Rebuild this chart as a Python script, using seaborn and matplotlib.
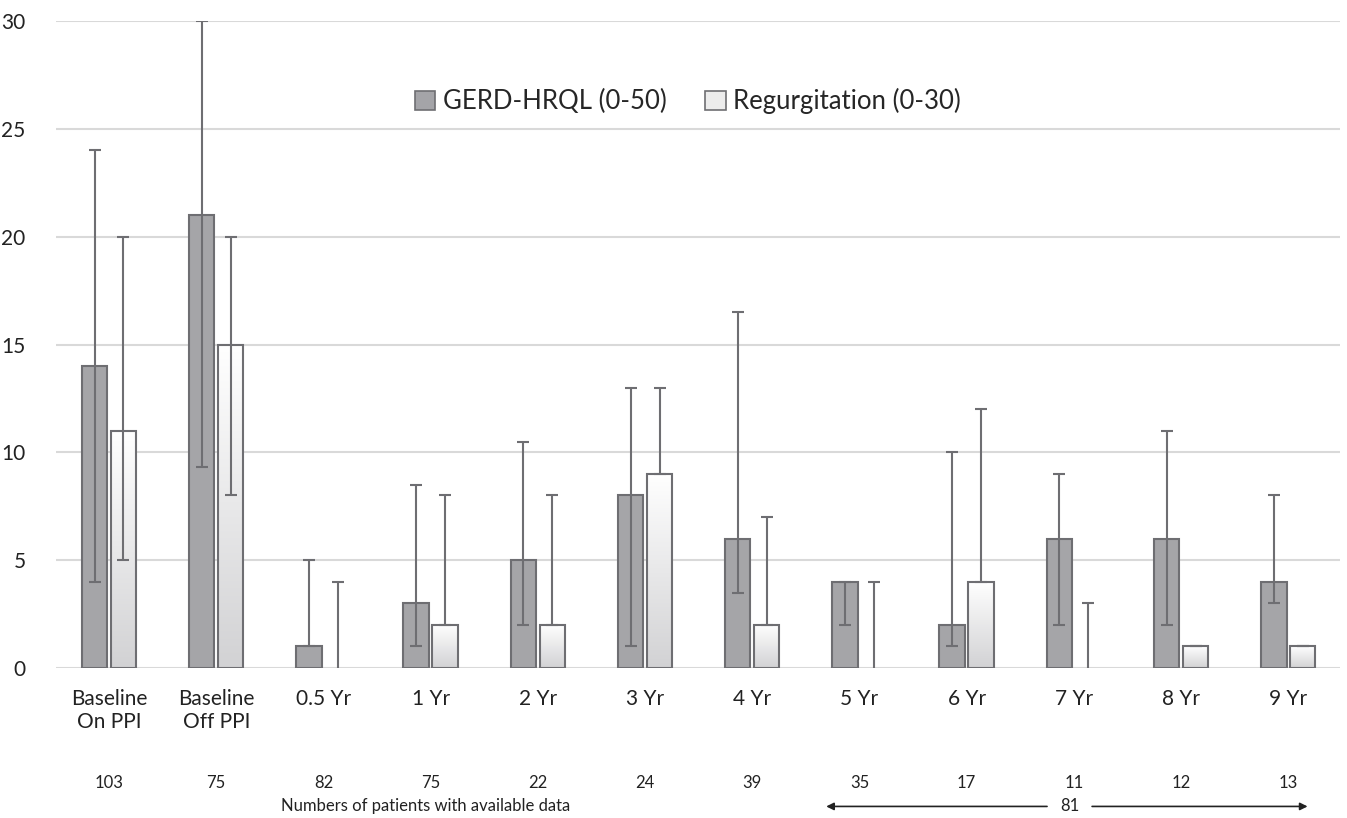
import numpy as np
import pandas as pd
import matplotlib
matplotlib.use("Agg")
import matplotlib.pyplot as plt
import seaborn as sns
from matplotlib.patches import Patch

# data
cats = ["Baseline\nOn PPI", "Baseline\nOff PPI", "0.5 Yr", "1 Yr", "2 Yr", "3 Yr",
        "4 Yr", "5 Yr", "6 Yr", "7 Yr", "8 Yr", "9 Yr"]
gerd = [14, 21, 1, 3, 5, 8, 6, 4, 2, 6, 6, 4]
gerd_lo = [4, 9.3, 1, 1, 2, 1, 3.5, 2, 1, 2, 2, 3]
gerd_hi = [24, 30, 5, 8.5, 10.5, 13, 16.5, 4, 10, 9, 11, 8]
regu = [11, 15, 0, 2, 2, 9, 2, 0, 4, 0, 1, 1]
regu_lo = [5, 8, 0, 2, 2, 9, 2, 0, 4, 0, 1, 1]
regu_hi = [20, 20, 4, 8, 8, 13, 7, 4, 12, 3, 1, 1]
n_pat = ["103", "75", "82", "75", "22", "24", "39", "35", "17", "11", "12", "13"]
series = ["GERD-HRQL (0-50)", "Regurgitation (0-30)"]

df = pd.DataFrame({
    "cat": cats * 2,
    "val": gerd + regu,
    "series": [series[0]] * len(cats) + [series[1]] * len(cats),
})

sns.set_style("white")
plt.rcParams["font.family"] = ["Lato", "DejaVu Sans"]

fig = plt.figure(figsize=(13.47, 8.18), dpi=100)
ax = fig.add_axes([0.0416, 0.1834, 0.9534, 0.7909])

gray = "#a4a4a8"
edge = "#6e6e72"
sns.barplot(data=df, x="cat", y="val", hue="series", order=cats, hue_order=series,
            palette=[gray, "white"], width=0.54, gap=0.12, edgecolor=edge,
            linewidth=1.5, errorbar=None, legend=False, ax=ax, zorder=2)

ax.set_yticks(range(0, 31, 5))
ax.yaxis.grid(True, color="#d9d9d9", linewidth=1.5, zorder=0)
ax.set_axisbelow(True)
for s in ax.spines.values():
    s.set_visible(False)
ax.set_xlabel("")
ax.set_ylabel("")
ax.tick_params(axis="y", labelsize=15, length=0, pad=22, colors="#222222")
ax.tick_params(axis="x", labelsize=15, length=0, pad=15, colors="#222222")

# gradient fill for regurgitation bars
grad = np.linspace(0, 1, 256).reshape(-1, 1)
cmap = matplotlib.colors.LinearSegmentedColormap.from_list("g", ["#d2d2d4", "#ffffff"])
for p in ax.containers[1]:
    x0, y0 = p.get_x(), p.get_y()
    w, h = p.get_width(), p.get_height()
    if h <= 0:
        p.set_visible(False)
        continue
    im = ax.imshow(grad, extent=[x0, x0 + w, y0, y0 + h], origin="lower", cmap=cmap,
                   aspect="auto", zorder=2.1)
    im.set_clip_path(p)
    p.set_facecolor("none")
    p.set_zorder(2.2)

# asymmetric error bars (no cap drawn on the zero line)
for cont, v, lo, hi in [(ax.containers[0], gerd, gerd_lo, gerd_hi),
                        (ax.containers[1], regu, regu_lo, regu_hi)]:
    xs = np.array([p.get_x() + p.get_width() / 2 for p in cont])
    v = np.array(v, float)
    lo = np.array(lo, float)
    hi = np.array(hi, float)
    ax.errorbar(xs, v, yerr=[v - lo, hi - v], fmt="none", ecolor=edge, elinewidth=1.5,
                capsize=0, zorder=3)
    ax.plot(xs, hi, ls="none", marker="_", ms=8, mew=1.5, color=edge, zorder=3)
    keep = lo > 0
    ax.plot(xs[keep], lo[keep], ls="none", marker="_", ms=8, mew=1.5, color=edge, zorder=3)

ax.set_xlim(-0.494, len(cats) - 0.515)
ax.set_ylim(0, 30)

handles = [Patch(facecolor=gray, edgecolor=edge, linewidth=1.2),
           Patch(facecolor="#ececec", edgecolor=edge, linewidth=1.2)]
ax.legend(handles, series, loc="center", bbox_to_anchor=(0.492, 0.876), ncol=2,
          frameon=False, fontsize=18.5, handlelength=0.8, handleheight=0.8,
          handletextpad=0.3, columnspacing=1.5)

# patient numbers
trans = matplotlib.transforms.blended_transform_factory(ax.transData, ax.transAxes)
for i, n in enumerate(n_pat):
    ax.text(i, -0.178, n, transform=trans, ha="center", va="center", fontsize=12,
            color="#222222")
ax.text(2.95, -0.214, "Numbers of patients with available data", transform=trans,
        ha="center", va="center", fontsize=12, color="#222222")
arrow = dict(arrowstyle="-|>", color="#222222", lw=1.2, mutation_scale=11,
             shrinkA=0, shrinkB=0)
ax.annotate("", xy=(6.69, -0.214), xytext=(8.75, -0.214), xycoords=trans,
            textcoords=trans, arrowprops=arrow)
ax.annotate("", xy=(11.18, -0.214), xytext=(9.17, -0.214), xycoords=trans,
            textcoords=trans, arrowprops=arrow)
ax.text(8.96, -0.214, "81", transform=trans, ha="center", va="center", fontsize=12,
        color="#222222")

fig.savefig("out.png", dpi=100)
